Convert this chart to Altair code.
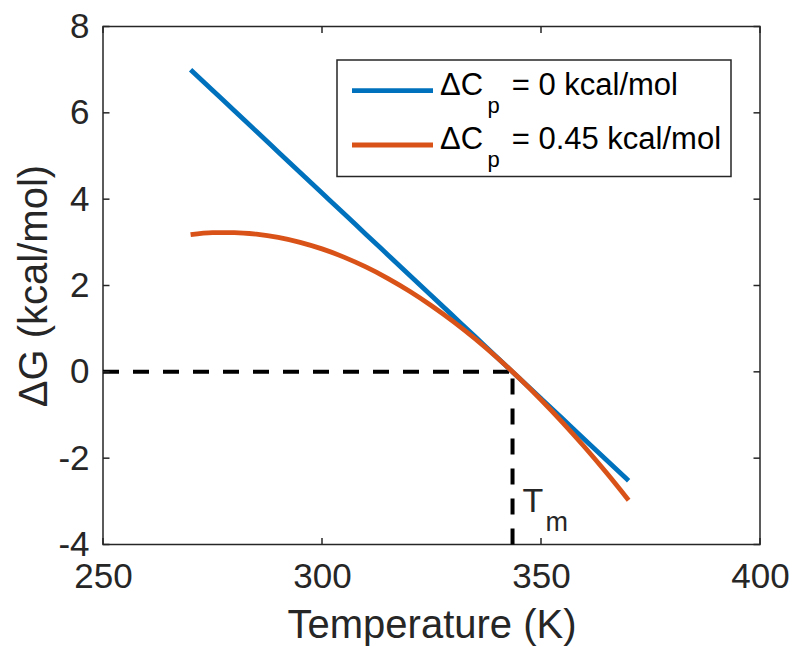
import altair as alt
import pandas as pd

# ---- data ----
temperature = [270, 275, 280, 285, 290, 295, 300, 305, 310, 315, 320,
               325, 330, 335, 340, 345, 350, 355, 360, 365, 370]
dg_cp0 = [7.000, 6.524, 6.048, 5.571, 5.095, 4.619, 4.143, 3.667, 3.190, 2.714, 2.238,
          1.762, 1.286, 0.810, 0.333, -0.143, -0.619, -1.095, -1.571, -2.048, -2.524]
dg_cp045 = [3.177, 3.223, 3.227, 3.190, 3.115, 3.000, 2.848, 2.658, 2.430, 2.167, 1.868,
            1.533, 1.165, 0.762, 0.325, -0.144, -0.647, -1.181, -1.747, -2.345, -2.973]
series_names = ["cp0", "cp045"]
legend_values = ["= 0 kcal/mol", "= 0.45 kcal/mol"]
x_ticks = [250, 300, 350, 400]
y_ticks = [-4, -2, 0, 2, 4, 6, 8]
x_domain = [250, 400]
y_domain = [-4, 8]
TM = 343.5

# ---- styling ----
W, H = 657, 518
FONT = "Liberation Sans"
AX = "#262626"
COLORS = ["#0072BD", "#D95319"]
TICK = 6.5

df = pd.DataFrame({
    "T": temperature + temperature,
    "G": dg_cp0 + dg_cp045,
    "series": [series_names[0]] * len(temperature) + [series_names[1]] * len(temperature),
})

xs = alt.Scale(domain=x_domain, nice=False, zero=False)
ys = alt.Scale(domain=y_domain, nice=False, zero=False)

x_axis = alt.Axis(values=x_ticks, title="Temperature (K)", ticks=False, tickSize=0,
                  domain=False, grid=False, labelFont=FONT, labelFontSize=35,
                  labelColor=AX, labelPadding=15, labelFlush=False, labelOverlap=False,
                  labelExpr="datum.value + ''",
                  titleFont=FONT, titleFontSize=40, titleFontWeight="normal",
                  titleColor=AX, titlePadding=11)
y_axis = alt.Axis(values=y_ticks, title="ΔG (kcal/mol)", ticks=False, tickSize=0,
                  domain=False, grid=False, labelFont=FONT, labelFontSize=35,
                  labelColor=AX, labelPadding=14, labelFlush=False, labelOverlap=False,
                  labelExpr="datum.value + ''",
                  titleFont=FONT, titleFontSize=40, titleFontWeight="normal",
                  titleColor=AX, titlePadding=3)


def X(field="T"):
    return alt.X(f"{field}:Q", scale=xs, axis=x_axis)


def Y(field="G"):
    return alt.Y(f"{field}:Q", scale=ys, axis=y_axis)


lines = alt.Chart(df).mark_line(strokeWidth=4.8, interpolate="monotone").encode(
    x=X(), y=Y(),
    color=alt.Color("series:N", scale=alt.Scale(domain=series_names, range=COLORS), legend=None),
)

hline = alt.Chart(pd.DataFrame({"T": [x_domain[0]], "T2": [TM], "G": [0]})).mark_rule(
    strokeDash=[16, 14], strokeWidth=4, color="black"
).encode(x=X(), x2="T2:Q", y=Y())

vline = alt.Chart(pd.DataFrame({"T": [TM], "G": [y_domain[0]], "G2": [0]})).mark_rule(
    strokeDash=[16, 14], strokeWidth=4, color="black"
).encode(x=X(), y=Y(), y2="G2:Q")

# inward ticks on all four sides (MATLAB box style)
xt = pd.DataFrame({"T": x_ticks})
yt = pd.DataFrame({"G": y_ticks})
tick_style = dict(color=AX, strokeWidth=1.5)
xt_bottom = alt.Chart(xt).mark_rule(**tick_style).encode(x=X(), y=alt.value(H), y2=alt.value(H - TICK))
xt_top = alt.Chart(xt).mark_rule(**tick_style).encode(x=X(), y=alt.value(0), y2=alt.value(TICK))
yt_left = alt.Chart(yt).mark_rule(**tick_style).encode(y=Y(), x=alt.value(0), x2=alt.value(TICK))
yt_right = alt.Chart(yt).mark_rule(**tick_style).encode(y=Y(), x=alt.value(W), x2=alt.value(W - TICK))

# Tm annotation
tm_T = alt.Chart(pd.DataFrame({"T": [TM]})).mark_text(
    text="T", font=FONT, fontSize=34, color=AX, align="left", baseline="alphabetic", dx=10
).encode(x=X(), y=alt.value(485))
tm_m = alt.Chart(pd.DataFrame({"T": [TM]})).mark_text(
    text="m", font=FONT, fontSize=27, color=AX, align="left", baseline="alphabetic", dx=33
).encode(x=X(), y=alt.value(504))

# legend (box with line samples and subscripted labels)
one = pd.DataFrame({"a": [0]})
legend_layers = [
    alt.Chart(one).mark_rect(fill="white", stroke=AX, strokeWidth=1.5).encode(
        x=alt.value(234), x2=alt.value(628), y=alt.value(33.5), y2=alt.value(150))
]
ROW = 54.3
for i, (val, col) in enumerate(zip(legend_values, COLORS)):
    dy = i * ROW
    legend_layers += [
        alt.Chart(one).mark_rule(color=col, strokeWidth=4.8).encode(
            x=alt.value(249), x2=alt.value(330), y=alt.value(64.2 + dy)),
        alt.Chart(one).mark_text(text="ΔC", font=FONT, fontSize=31, color="black",
                                 align="left", baseline="alphabetic").encode(
            x=alt.value(337), y=alt.value(68.5 + dy)),
        alt.Chart(one).mark_text(text="p", font=FONT, fontSize=22, color="black",
                                 align="left", baseline="alphabetic").encode(
            x=alt.value(384.5), y=alt.value(86.5 + dy)),
        alt.Chart(one).mark_text(text=val, font=FONT, fontSize=31, color="black",
                                 align="left", baseline="alphabetic").encode(
            x=alt.value(408.7), y=alt.value(68.5 + dy)),
    ]

chart = alt.layer(
    hline, vline, lines, xt_bottom, xt_top, yt_left, yt_right, tm_T, tm_m, *legend_layers
).properties(
    width=W, height=H,
    autosize=alt.AutoSizeParams(type="none"),
    padding={"left": 103, "top": 26.5, "right": 33, "bottom": 102.5},
    background="white",
).configure_view(stroke=AX, strokeWidth=1.5)

chart.save("out.html", embed_options={"renderer": "svg", "actions": False})
